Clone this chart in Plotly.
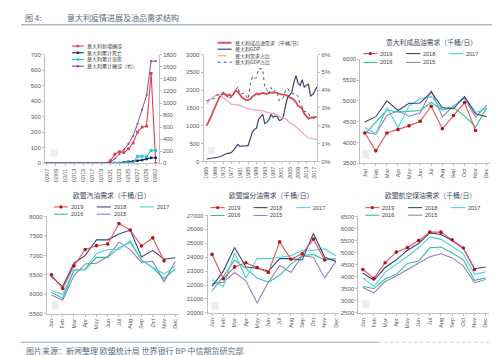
import plotly.graph_objects as go

W, H = 500, 355
CJK = "Noto Sans CJK SC"
NUM = "Liberation Sans"
TICK_C = "#595959"
AX_C = "#bfbfbf"

# ---------------- Panel 1: Italy epidemic ----------------
dates = ["02/07", "02/08", "02/09", "02/10", "02/11", "02/12", "02/13", "02/14", "02/15",
         "02/16", "02/17", "02/18", "02/19", "02/20", "02/21", "02/22", "02/23", "02/24",
         "02/25", "02/26", "02/27", "02/28", "02/29", "03/01", "03/02"]
new_cases = [0]*14 + [17, 59, 76, 69, 93, 131, 202, 233, 240, 580, 0]
deaths = [0]*14 + [1, 2, 3, 7, 10, 12, 17, 21, 29, 36, 36]
recovered = [0]*14 + [0, 0, 0, 1, 1, 3, 45, 46, 46, 83, 83]
cum_cases = [3]*14 + [20, 79, 155, 229, 322, 453, 655, 888, 1128, 1694, 1694]

# ---------------- Panel 2: Italy oil demand & GDP ----------------
years = list(range(1965, 2019))
oil_demand = [1000, 1110, 1240, 1380, 1530, 1680, 1780, 1850, 1930, 1880,
              1820, 1880, 1830, 1900, 1990, 1960, 1860, 1800, 1760, 1720,
              1720, 1750, 1820, 1860, 1900, 1880, 1900, 1920, 1910, 1890,
              1930, 1920, 1930, 1940, 1930, 1900, 1880, 1880, 1870, 1840,
              1790, 1770, 1730, 1660, 1560, 1530, 1480, 1340, 1270, 1200,
              1230, 1240, 1250, 1250]
gdp = [67, 73, 81, 88, 97, 113, 124, 145, 175, 200,
       227, 226, 258, 316, 395, 477, 430, 427, 442, 437,
       449, 644, 815, 893, 936, 1182, 1246, 1320, 1063, 1103,
       1174, 1313, 1242, 1270, 1253, 1146, 1168, 1271, 1577, 1806,
       1858, 1949, 2213, 2408, 2199, 2136, 2294, 2087, 2141, 2162,
       1836, 1877, 1962, 2092]
demand_share = [3.25, 3.4, 3.5, 3.6, 3.7, 3.75, 3.75, 3.7, 3.55, 3.5,
                3.4, 3.3, 3.2, 3.2, 3.15, 3.2, 3.15, 3.1, 3.05, 3.0,
                2.95, 2.95, 2.9, 2.9, 2.9, 2.85, 2.85, 2.85, 2.8, 2.75,
                2.75, 2.7, 2.7, 2.65, 2.6, 2.5, 2.45, 2.45, 2.4, 2.3,
                2.15, 2.1, 2.05, 1.95, 1.85, 1.75, 1.65, 1.5, 1.4, 1.3,
                1.3, 1.28, 1.25, 1.22]
gdp_share = [3.4, 3.45, 3.5, 3.5, 3.55, 3.75, 3.7, 3.75, 3.8, 3.65,
             3.8, 3.6, 3.6, 3.8, 3.95, 4.2, 3.8, 3.8, 3.85, 3.7,
             3.5, 4.3, 4.75, 4.65, 4.7, 5.2, 5.2, 5.2, 4.1, 4.05,
             3.8, 4.15, 3.9, 4.0, 3.85, 3.4, 3.5, 3.6, 4.0, 4.1,
             3.9, 3.8, 3.8, 3.8, 3.65, 3.2, 3.1, 2.8, 2.8, 2.7,
             2.45, 2.45, 2.4, 2.4]
year_ticks = list(range(1965, 2018, 4))

# ---------------- Monthly panels ----------------
months = ["Jan", "Feb", "Mar", "Apr", "May", "Jun", "Jul", "Aug", "Sep", "Oct", "Nov", "Dec"]
series_years = ["2019", "2018", "2017", "2016", "2015"]

it_products = {
    "2019": [4230, 3800, 4230, 4310, 4400, 4510, 4870, 4330, 4650, 4960, 4290],
    "2018": [4490, 4620, 5000, 4770, 4940, 4950, 5210, 4840, 4810, 5100, 4690, 4620],
    "2017": [4360, 4210, 4840, 4360, 4880, 5050, 5100, 4800, 4860, 5100, 4720, 4820],
    "2016": [4200, 4480, 4780, 4730, 4750, 4770, 4960, 4780, 4840, 4640, 4370, 4830],
    "2015": [4250, 4200, 4650, 4760, 4630, 4710, 5250, 4620, 4880, 5060, 4610, 4890],
}
eu_gasoline = {
    "2019": [6500, 6150, 6730, 7150, 7250, 7290, 7820, 7650, 7240, 7450, 6860],
    "2018": [6450, 6200, 6800, 7000, 7400, 7400, 7550, 7650, 6960, 7130, 6900, 6940],
    "2017": [6100, 6000, 6630, 6650, 7050, 7150, 7150, 7380, 6870, 6700, 6520, 6720],
    "2016": [6050, 5900, 6620, 6630, 6950, 6950, 7200, 7330, 6880, 6680, 6400, 6660],
    "2015": [5980, 5850, 6480, 6780, 6800, 6970, 7340, 7150, 6820, 6850, 6320, 6850],
}
eu_distillate = {
    "2019": [24200, 22450, 23300, 23600, 23250, 22900, 25100, 23850, 24250, 25300, 23800],
    "2018": [21900, 23000, 24700, 23300, 23200, 23000, 23900, 23900, 23800, 25700, 24000, 23700],
    "2017": [22400, 21900, 24300, 22500, 23900, 23900, 24000, 24100, 24500, 24500, 24600, 24100],
    "2016": [21600, 22600, 23800, 23200, 22500, 22200, 22700, 23500, 24100, 24200, 23800, 23900],
    "2015": [22100, 22200, 22900, 22300, 20700, 22200, 23400, 22900, 24100, 24000, 22500, 23700],
}
eu_jet = {
    "2019": [4300, 3930, 4580, 5020, 5210, 5500, 5850, 5850, 5530, 5190, 4300],
    "2018": [4150, 3850, 4380, 4700, 5100, 5380, 5820, 5750, 5500, 5180, 4330, 4400],
    "2017": [3950, 3600, 4180, 4500, 4850, 5200, 5650, 5550, 5250, 4950, 4100, 4200],
    "2016": [3600, 3500, 3900, 4100, 4550, 4650, 5200, 5230, 4980, 4700, 3850, 3950],
    "2015": [3550, 3330, 3800, 4030, 4300, 4550, 4830, 4950, 4780, 4450, 3750, 3880],
}

year_colors = {"2019": "#e0353d", "2018": "#3b4677", "2017": "#49d3e0",
               "2016": "#2cc09a", "2015": "#9a7bc2"}

# ---------------- helpers ----------------
def X(px):
    return px / W


def Y(py):
    return 1 - py / H


fig = go.Figure()
shapes = []
annots = []


def text(x, y, s, size=6, color="#404040", anchor="left", family=CJK):
    annots.append(dict(x=X(x), y=Y(y), xref="paper", yref="paper", text=s, showarrow=False,
                       xanchor=anchor, yanchor="middle", borderpad=0,
                       font=dict(family=family, size=size, color=color)))


def hline(x0, x1, y, color, width=1.2, dash="solid"):
    shapes.append(dict(type="line", xref="paper", yref="paper", x0=X(x0), x1=X(x1),
                       y0=Y(y), y1=Y(y), line=dict(color=color, width=width, dash=dash)))


def dot(cx, cy, r, color, square=False):
    shapes.append(dict(type="rect" if square else "circle", xref="paper", yref="paper",
                       x0=X(cx - r), x1=X(cx + r), y0=Y(cy + r), y1=Y(cy - r),
                       fillcolor=color, line=dict(color=color, width=0)))


def rect(x0, y0, x1, y1, color):
    shapes.append(dict(type="rect", xref="paper", yref="paper", x0=X(x0), x1=X(x1),
                       y0=Y(y1), y1=Y(y0), fillcolor=color, line=dict(width=0), layer="below"))


def yax(domain_px, rng, dtick, anchor, side="left", overlay=None, suffix="", show_line=True):
    d = dict(domain=[Y(domain_px[1]), Y(domain_px[0])], range=rng, dtick=dtick,
             anchor=anchor, side=side, showgrid=False, zeroline=False,
             showline=show_line, linecolor=AX_C, linewidth=1,
             ticks="outside", ticklen=2, tickcolor=AX_C, tickformat="d",
             tickfont=dict(family=NUM, size=6, color=TICK_C), ticksuffix=suffix)
    if overlay:
        d["overlaying"] = overlay
    return d


def xax(domain_px, rng, anchor, **kw):
    d = dict(domain=[X(domain_px[0]), X(domain_px[1])], range=rng, anchor=anchor,
             showgrid=False, zeroline=False, showline=True, linecolor=AX_C, linewidth=1,
             ticks="outside", ticklen=2, tickcolor=AX_C, tickangle=-90,
             tickfont=dict(family=NUM, size=5.5, color=TICK_C))
    d.update(kw)
    return d


layout_axes = {}

# ---------------- Panel 1 ----------------
p1_x = (36, 150)
p1_y = (44.5, 155)
layout_axes["xaxis"] = xax(p1_x, [-0.44, 24.67], "y", type="category",
                           tickmode="array", tickvals=dates[::2], ticktext=dates[::2])
layout_axes["yaxis"] = yax(p1_y, [0, 700], 100, "x")
layout_axes["yaxis2"] = yax(p1_y, [0, 1800], 200, "x", side="right", overlay="y")

fig.add_trace(go.Scatter(x=dates, y=new_cases, mode="lines+markers", xaxis="x", yaxis="y",
                         line=dict(color="#e0404a", width=1.1),
                         marker=dict(symbol="square", size=2.8, color="#e0404a")))
fig.add_trace(go.Scatter(x=dates, y=deaths, mode="lines+markers", xaxis="x", yaxis="y",
                         line=dict(color="#1f2a5c", width=1.1),
                         marker=dict(symbol="square", size=2.5, color="#1f2a5c")))
fig.add_trace(go.Scatter(x=dates, y=recovered, mode="lines+markers", xaxis="x", yaxis="y",
                         line=dict(color="#1cc6e0", width=1.1),
                         marker=dict(symbol="square", size=2.8, color="#1cc6e0")))
fig.add_trace(go.Scatter(x=dates, y=cum_cases, mode="lines+markers", xaxis="x", yaxis="y2",
                         line=dict(color="#8d4b9e", width=1.0),
                         marker=dict(symbol="circle", size=2.2, color="#8d4b9e")))

p1_leg = [("意大利新增确诊", "#e0404a", True), ("意大利累计死亡", "#1f2a5c", True),
          ("意大利累计治愈", "#1cc6e0", True), ("意大利累计确诊（右）", "#8d4b9e", True)]
for i, (lab, c, m) in enumerate(p1_leg):
    yy = 35.7 + i * 6.8
    hline(63, 75, yy, c, 1.1)
    if m:
        dot(69, yy, 1.2, c, square=True)
    text(77, yy, lab, size=5)

# ---------------- Panel 2 ----------------
p2_x = (195, 309)
p2_y = (44.3, 153)
layout_axes["xaxis2"] = xax(p2_x, [1963.57, 2018.3], "y3", tickmode="array",
                            tickvals=year_ticks, ticktext=[str(v) for v in year_ticks])
layout_axes["yaxis3"] = yax(p2_y, [0, 3000], 500, "x2")
layout_axes["yaxis4"] = yax(p2_y, [0, 6], 1, "x2", side="right", overlay="y3", suffix="%")

fig.add_trace(go.Scatter(x=years, y=oil_demand, mode="lines", xaxis="x2", yaxis="y3",
                         line=dict(color="#e2474f", width=1.8)))
fig.add_trace(go.Scatter(x=years, y=gdp, mode="lines", xaxis="x2", yaxis="y3",
                         line=dict(color="#39416e", width=1.2)))
fig.add_trace(go.Scatter(x=years, y=demand_share, mode="lines", xaxis="x2", yaxis="y4",
                         line=dict(color="#f2a3ad", width=1.2)))
fig.add_trace(go.Scatter(x=years, y=gdp_share, mode="lines", xaxis="x2", yaxis="y4",
                         line=dict(color="#4d5784", width=1.0, dash="dot")))

p2_leg = [("意大利成品油需求（千桶/日）", "#e2474f", "solid", 1.8),
          ("意大利GDP", "#39416e", "solid", 1.2),
          ("意大利需求占比", "#f2a3ad", "dash", 1.2),
          ("意大利GDP占比", "#4d5784", "dot", 1.0)]
for i, (lab, c, dsh, w) in enumerate(p2_leg):
    yy = 32.3 + i * 6.6
    hline(209, 223, yy, c, w, dsh)
    text(225, yy, lab, size=5)

# ---------------- Monthly panels ----------------
panels = [
    dict(data=it_products, x=(352, 482), y=(49, 155), rng=[3500, 6000], dt=500,
         xa="xaxis3", ya="yaxis5", xr="x3", yr="y5", title="意大利成品油需求（千桶/日）",
         tx=423, ty=32, leg_y=(43.3, 52.3), leg_x=355),
    dict(data=eu_gasoline, x=(38, 170), y=(209, 308), rng=[5500, 8000], dt=500,
         xa="xaxis4", ya="yaxis6", xr="x4", yr="y6", title="欧盟汽油需求（千桶/日）",
         tx=103, ty=187, leg_y=(199.3, 206.7), leg_x=45),
    dict(data=eu_distillate, x=(199, 331), y=(208, 307), rng=[20000, 27000], dt=1000,
         xa="xaxis5", ya="yaxis7", xr="x5", yr="y7", title="欧盟馏分油需求（千桶/日）",
         tx=263, ty=187, leg_y=(200, 208), leg_x=202),
    dict(data=eu_jet, x=(350, 481), y=(209, 307), rng=[2500, 6500], dt=500,
         xa="xaxis6", ya="yaxis8", xr="x6", yr="y8", title="欧盟航空煤油需求（千桶/日）",
         tx=422, ty=187, leg_y=(200, 207.7), leg_x=357),
]

for p in panels:
    layout_axes[p["xa"]] = xax(p["x"], [-0.4, 11.3], p["yr"], type="category",
                                categoryorder="array", categoryarray=months)
    layout_axes[p["ya"]] = yax(p["y"], p["rng"], p["dt"], p["xr"])
    for yr in reversed(series_years):
        vals = p["data"][yr]
        c = year_colors[yr]
        if yr == "2019":
            fig.add_trace(go.Scatter(x=months[:len(vals)], y=vals, mode="lines+markers",
                                     xaxis=p["xr"], yaxis=p["yr"],
                                     line=dict(color="#e8525a", width=1.1),
                                     marker=dict(size=3.6, color="#b0141c")))
        else:
            fig.add_trace(go.Scatter(x=months[:len(vals)], y=vals, mode="lines",
                                     xaxis=p["xr"], yaxis=p["yr"],
                                     line=dict(color=c, width=1.1)))
    text(p["tx"], p["ty"], p["title"], size=6.8, color="#3a4a60", anchor="center")
    lx = p["leg_x"]
    for i, yr in enumerate(series_years):
        row = 0 if i < 3 else 1
        col = i if i < 3 else i - 3
        x0 = lx + col * 43
        yy = p["leg_y"][row]
        c = "#e8525a" if yr == "2019" else year_colors[yr]
        hline(x0, x0 + 14, yy, c, 1.1)
        if yr == "2019":
            dot(x0 + 7, yy, 1.6, "#b0141c")
        text(x0 + 16, yy, yr, size=5.5, family=NUM, color="#404040")

# watermark patches
for (a, b) in [(42, 140), (199, 138), (354, 142), (43, 295), (203, 296), (354, 294)]:
    rect(a, b, a + 7, b + 8, "#ededed")

# ---------------- Header / footer ----------------
text(15, 7, "图 4:", size=8, color="#5b6b80")
text(57, 7, "意大利疫情进展及油品需求结构", size=8, color="#5b6b80")
hline(12, 490, 14, "#a9b9cb", 1.6)
hline(12, 370, 337, "#a9b9cb", 1.2)
hline(370, 490, 337, "#c5d0dc", 1.0, "dot")
text(16, 345.5, "图片来源：新闻整理 欧盟统计局 世界银行 BP 中信期货研究部", size=8, color="#5b6b80")

fig.update_layout(width=W, height=H, autosize=False,
                  margin=dict(l=0, r=0, t=0, b=0),
                  paper_bgcolor="white", plot_bgcolor="white",
                  showlegend=False, shapes=shapes, annotations=annots,
                  **layout_axes)

fig.write_html("out.html")
